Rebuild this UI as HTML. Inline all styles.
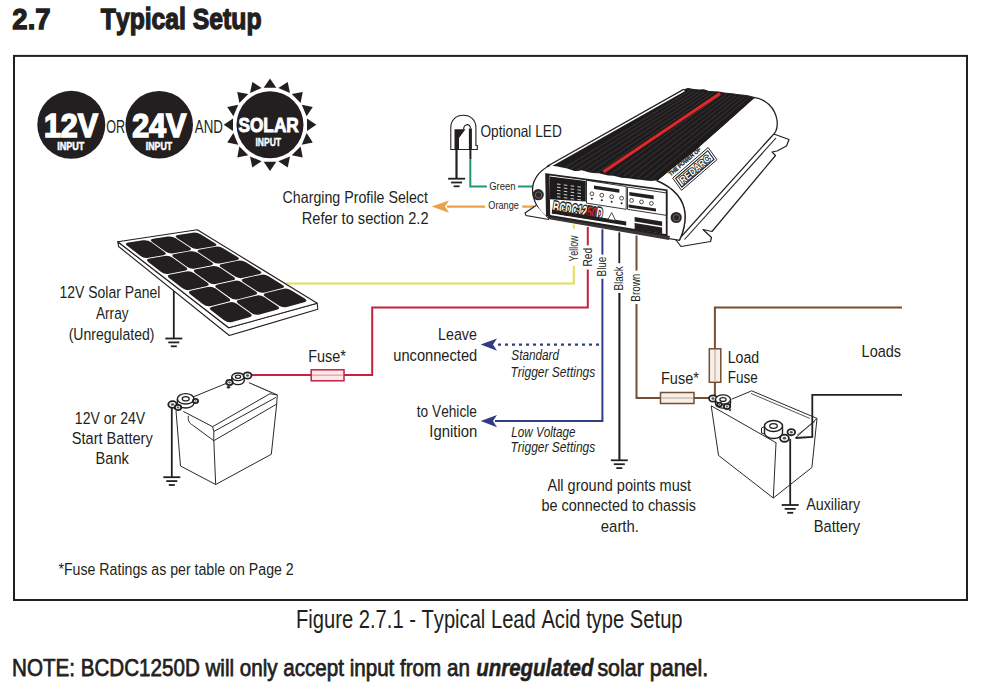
<!DOCTYPE html>
<html><head><meta charset="utf-8"><style>
html,body{margin:0;padding:0;background:#fff;}
svg{display:block;}
text{font-family:"Liberation Sans",sans-serif;font-kerning:none;}
</style></head><body>
<svg width="983" height="689" viewBox="0 0 983 689">
<rect width="983" height="689" fill="#fff"/>
<text x="12.35" y="29.20" font-size="30" textLength="38.26" lengthAdjust="spacingAndGlyphs" font-weight="bold" fill="#231f20" stroke="#231f20" stroke-width="1.3">2.7</text>
<text x="100.82" y="29.20" font-size="30" textLength="160.69" lengthAdjust="spacingAndGlyphs" font-weight="bold" fill="#231f20" stroke="#231f20" stroke-width="1.3">Typical Setup</text>
<rect x="14" y="55.9" width="953" height="544.1" fill="none" stroke="#231f20" stroke-width="2"/>
<circle cx="71.3" cy="124.8" r="34" fill="#231f20"/>
<text x="43.89" y="137.00" font-size="34" textLength="54.02" lengthAdjust="spacingAndGlyphs" font-weight="bold" fill="#fff" stroke="#fff" stroke-width="1.6">12V</text>
<text x="57.20" y="150.20" font-size="11.6" textLength="27.10" lengthAdjust="spacingAndGlyphs" font-weight="bold" fill="#fff" stroke="#fff" stroke-width="0.5">INPUT</text>
<text x="106.30" y="132.90" font-size="17.5" textLength="18.88" lengthAdjust="spacingAndGlyphs" fill="#231f20">OR</text>
<circle cx="159.2" cy="124.8" r="33.8" fill="#231f20"/>
<text x="132.14" y="137.00" font-size="34" textLength="54.27" lengthAdjust="spacingAndGlyphs" font-weight="bold" fill="#fff" stroke="#fff" stroke-width="1.6">24V</text>
<text x="145.71" y="150.20" font-size="11.6" textLength="26.49" lengthAdjust="spacingAndGlyphs" font-weight="bold" fill="#fff" stroke="#fff" stroke-width="0.5">INPUT</text>
<text x="194.77" y="132.90" font-size="17.5" textLength="28.16" lengthAdjust="spacingAndGlyphs" fill="#231f20">AND</text>
<polygon points="270.00,78.40 263.70,87.70 276.30,87.70" fill="#231f20" stroke="none" stroke-width="0"/>
<polygon points="287.72,81.92 278.34,88.11 289.98,92.93" fill="#231f20" stroke="none" stroke-width="0"/>
<polygon points="302.74,91.96 291.71,94.08 300.62,102.99" fill="#231f20" stroke="none" stroke-width="0"/>
<polygon points="312.78,106.98 301.77,104.72 306.59,116.36" fill="#231f20" stroke="none" stroke-width="0"/>
<polygon points="316.30,124.70 307.00,118.40 307.00,131.00" fill="#231f20" stroke="none" stroke-width="0"/>
<polygon points="312.78,142.42 306.59,133.04 301.77,144.68" fill="#231f20" stroke="none" stroke-width="0"/>
<polygon points="302.74,157.44 300.62,146.41 291.71,155.32" fill="#231f20" stroke="none" stroke-width="0"/>
<polygon points="287.72,167.48 289.98,156.47 278.34,161.29" fill="#231f20" stroke="none" stroke-width="0"/>
<polygon points="270.00,171.00 276.30,161.70 263.70,161.70" fill="#231f20" stroke="none" stroke-width="0"/>
<polygon points="252.28,167.48 261.66,161.29 250.02,156.47" fill="#231f20" stroke="none" stroke-width="0"/>
<polygon points="237.26,157.44 248.29,155.32 239.38,146.41" fill="#231f20" stroke="none" stroke-width="0"/>
<polygon points="227.22,142.42 238.23,144.68 233.41,133.04" fill="#231f20" stroke="none" stroke-width="0"/>
<polygon points="223.70,124.70 233.00,131.00 233.00,118.40" fill="#231f20" stroke="none" stroke-width="0"/>
<polygon points="227.22,106.98 233.41,116.36 238.23,104.72" fill="#231f20" stroke="none" stroke-width="0"/>
<polygon points="237.26,91.96 239.38,102.99 248.29,94.08" fill="#231f20" stroke="none" stroke-width="0"/>
<polygon points="252.28,81.92 250.02,92.93 261.66,88.11" fill="#231f20" stroke="none" stroke-width="0"/>
<circle cx="270.0" cy="124.7" r="33.5" fill="#231f20"/>
<text x="238.50" y="132.30" font-size="21" textLength="60.25" lengthAdjust="spacingAndGlyphs" font-weight="bold" fill="#fff" stroke="#fff" stroke-width="1">SOLAR</text>
<text x="255.43" y="145.80" font-size="11" textLength="25.66" lengthAdjust="spacingAndGlyphs" font-weight="bold" fill="#fff" stroke="#fff" stroke-width="0.4">INPUT</text>
<path d="M450.8,149.5 L450.8,127.5 C450.8,120 456,115.2 463.3,115.2 C470.6,115.2 475.9,120 475.9,127.5 L475.9,145.5 L477.3,145.5 L477.3,149.5 Z" fill="#fff" stroke="#231f20" stroke-width="1.1"/>
<path d="M454.5,149.5 L454.5,129.2 L465.5,129.2 L459,138 L459,149.5 Z" fill="#231f20"/>
<path d="M463.5,129.5 C463.8,123.5 470.2,123 470.6,128.5" fill="none" stroke="#231f20" stroke-width="1.1"/>
<rect x="468.9" y="128.5" width="3" height="21" fill="#231f20"/>
<line x1="456.5" y1="149.5" x2="456.5" y2="179" stroke="#231f20" stroke-width="2.2"/>
<line x1="448.10" y1="178.70" x2="465.10" y2="178.70" stroke="#231f20" stroke-width="1.8"/>
<line x1="451.10" y1="182.50" x2="462.10" y2="182.50" stroke="#231f20" stroke-width="1.8"/>
<line x1="453.60" y1="186.30" x2="459.60" y2="186.30" stroke="#231f20" stroke-width="1.8"/>
<line x1="470.4" y1="149.5" x2="470.4" y2="159.5" stroke="#231f20" stroke-width="2"/>
<polyline points="470.30,159.50 470.30,186.50 486.90,186.50" fill="none" stroke="#1f9a6e" stroke-width="2"/>
<line x1="518" y1="186.5" x2="533" y2="186.5" stroke="#1f9a6e" stroke-width="2"/>
<text x="480.45" y="136.60" font-size="16.5" textLength="81.40" lengthAdjust="spacingAndGlyphs" fill="#231f20">Optional LED</text>
<text x="489.22" y="189.70" font-size="10.6" textLength="26.29" lengthAdjust="spacingAndGlyphs" fill="#231f20">Green</text>
<text x="488.37" y="209.40" font-size="10.6" textLength="30.54" lengthAdjust="spacingAndGlyphs" fill="#231f20">Orange</text>
<line x1="447" y1="206.6" x2="485.1" y2="206.6" stroke="#eda04a" stroke-width="2.2"/>
<line x1="522.2" y1="206.6" x2="534.5" y2="206.6" stroke="#eda04a" stroke-width="2.2"/>
<polygon points="431.70,206.60 449.00,200.50 445.00,206.60 449.00,212.70" fill="#eda04a" stroke="none" stroke-width="0"/>
<text x="282.58" y="203.00" font-size="16.5" textLength="145.33" lengthAdjust="spacingAndGlyphs" fill="#231f20">Charging Profile Select</text>
<text x="301.80" y="223.70" font-size="16.5" textLength="126.73" lengthAdjust="spacingAndGlyphs" fill="#231f20">Refer to section 2.2</text>
<polyline points="270.00,283.40 573.80,283.40 573.80,265.70" fill="none" stroke="#e6dc55" stroke-width="2"/>
<line x1="573.8" y1="224.5" x2="573.8" y2="228.8" stroke="#e6dc55" stroke-width="2"/>
<line x1="173.8" y1="285" x2="173.8" y2="338.5" stroke="#231f20" stroke-width="1.8"/>
<line x1="165.30" y1="338.50" x2="182.30" y2="338.50" stroke="#231f20" stroke-width="1.8"/>
<line x1="168.30" y1="342.40" x2="179.30" y2="342.40" stroke="#231f20" stroke-width="1.8"/>
<line x1="170.80" y1="346.30" x2="176.80" y2="346.30" stroke="#231f20" stroke-width="1.8"/>
<polygon points="117.80,241.70 118.60,246.50 229.30,335.50 317.80,309.30 317.20,303.20 228.70,327.80" fill="#fff" stroke="#231f20" stroke-width="1.1" stroke-linejoin="round"/>
<polygon points="117.80,241.70 197.30,229.80 317.20,303.20 228.70,327.80" fill="#fff" stroke="#231f20" stroke-width="1.1" stroke-linejoin="round"/>
<path d="M127.55,246.09 Q123.91,243.29 128.45,242.59 L142.96,240.37 Q147.50,239.68 151.24,242.36 L164.21,251.67 Q167.94,254.35 163.42,255.16 L148.40,257.83 Q143.87,258.64 140.22,255.84 Z" fill="#231f20"/>
<path d="M148.52,262.21 Q144.87,259.41 149.40,258.60 L164.44,255.90 Q168.97,255.09 172.71,257.77 L185.68,267.08 Q189.41,269.76 184.90,270.68 L169.34,273.84 Q164.83,274.76 161.19,271.96 Z" fill="#231f20"/>
<path d="M169.48,278.33 Q165.84,275.53 170.34,274.61 L185.93,271.42 Q190.44,270.50 194.17,273.18 L207.14,282.49 Q210.88,285.17 206.39,286.19 L190.29,289.86 Q185.80,290.88 182.15,288.08 Z" fill="#231f20"/>
<path d="M190.45,294.45 Q186.80,291.65 191.29,290.62 L207.42,286.94 Q211.91,285.91 215.64,288.59 L228.61,297.90 Q232.35,300.59 227.89,301.70 L211.23,305.88 Q206.77,307.00 203.12,304.19 Z" fill="#231f20"/>
<path d="M211.41,310.57 Q207.77,307.77 212.23,306.65 L228.91,302.44 Q233.37,301.32 237.11,304.00 L250.08,313.31 Q253.81,316.00 249.38,317.21 L232.17,321.91 Q227.73,323.12 224.09,320.31 Z" fill="#231f20"/>
<path d="M152.44,242.17 Q148.70,239.49 153.25,238.80 L167.75,236.57 Q172.30,235.88 176.12,238.43 L189.41,247.29 Q193.24,249.84 188.71,250.65 L173.69,253.33 Q169.16,254.13 165.42,251.46 Z" fill="#231f20"/>
<path d="M173.93,257.54 Q170.19,254.87 174.72,254.06 L189.76,251.36 Q194.29,250.55 198.12,253.10 L211.41,261.96 Q215.23,264.51 210.73,265.43 L195.17,268.59 Q190.66,269.51 186.92,266.83 Z" fill="#231f20"/>
<path d="M195.43,272.92 Q191.68,270.24 196.19,269.32 L211.78,266.13 Q216.29,265.21 220.11,267.76 L233.40,276.63 Q237.23,279.18 232.74,280.20 L216.64,283.86 Q212.15,284.88 208.41,282.21 Z" fill="#231f20"/>
<path d="M216.92,288.30 Q213.18,285.62 217.66,284.59 L233.80,280.91 Q238.28,279.88 242.11,282.43 L255.40,291.29 Q259.22,293.85 254.76,294.97 L238.11,299.14 Q233.64,300.26 229.90,297.58 Z" fill="#231f20"/>
<path d="M238.41,303.67 Q234.67,300.99 239.13,299.87 L255.81,295.67 Q260.27,294.55 264.10,297.10 L277.39,305.96 Q281.22,308.51 276.78,309.73 L259.57,314.42 Q255.14,315.64 251.40,312.96 Z" fill="#231f20"/>
<path d="M177.32,238.24 Q173.49,235.70 178.04,235.00 L192.54,232.78 Q197.09,232.08 201.00,234.50 L214.62,242.92 Q218.53,245.34 214.01,246.15 L198.99,248.82 Q194.46,249.63 190.63,247.08 Z" fill="#231f20"/>
<path d="M199.34,252.87 Q195.51,250.33 200.04,249.51 L215.08,246.82 Q219.61,246.00 223.52,248.42 L237.14,256.84 Q241.06,259.26 236.55,260.18 L220.99,263.34 Q216.48,264.26 212.65,261.71 Z" fill="#231f20"/>
<path d="M221.36,267.50 Q217.53,264.96 222.04,264.04 L237.63,260.85 Q242.13,259.93 246.05,262.35 L259.67,270.77 Q263.58,273.18 259.09,274.21 L242.99,277.87 Q238.50,278.89 234.67,276.34 Z" fill="#231f20"/>
<path d="M243.38,282.13 Q239.55,279.59 244.04,278.56 L260.17,274.88 Q264.66,273.85 268.57,276.27 L282.19,284.69 Q286.10,287.11 281.64,288.23 L264.98,292.40 Q260.52,293.52 256.69,290.98 Z" fill="#231f20"/>
<path d="M265.40,296.77 Q261.57,294.22 266.03,293.10 L282.72,288.90 Q287.18,287.77 291.09,290.19 L304.71,298.61 Q308.62,301.03 304.19,302.24 L286.98,306.94 Q282.54,308.15 278.71,305.61 Z" fill="#231f20"/>
<polyline points="250.60,375.00 311.20,375.00" fill="none" stroke="#c4223e" stroke-width="2"/>
<polyline points="344.00,375.00 372.20,375.00 372.20,307.60 587.80,307.60 587.80,269.40" fill="none" stroke="#c4223e" stroke-width="2"/>
<line x1="587.8" y1="226.9" x2="587.8" y2="245.4" stroke="#c4223e" stroke-width="2"/>
<rect x="311.2" y="369.8" width="32.8" height="11" fill="#fde8ea" stroke="#c4223e" stroke-width="1.5"/>
<line x1="312" y1="375.2" x2="343" y2="375.2" stroke="#e9a3ad" stroke-width="1.4"/>
<polygon points="176.00,410.00 193.00,397.00 245.00,380.00 277.30,394.90 276.70,404.10 271.30,454.30 215.70,484.50 180.50,466.00" fill="#fff" stroke="none" stroke-width="0"/>
<polyline points="193.00,397.00 226.00,383.50" fill="none" stroke="#2c2829" stroke-width="1.0"/>
<polyline points="249.00,382.70 277.30,394.90 276.70,404.10 271.30,454.30 215.70,484.50 180.50,466.00 176.00,411.00" fill="none" stroke="#2c2829" stroke-width="1.0"/>
<polyline points="253.00,384.50 271.00,392.50" fill="none" stroke="#2c2829" stroke-width="0.7" stroke-dasharray="1.5,1"/>
<polyline points="183.30,411.40 212.60,426.70 270.00,393.70 277.30,394.90" fill="none" stroke="#2c2829" stroke-width="1.0"/>
<polyline points="212.60,426.70 213.80,431.50 276.00,397.40" fill="none" stroke="#2c2829" stroke-width="1.0"/>
<polyline points="213.80,431.50 213.80,440.70 276.70,404.10" fill="none" stroke="#2c2829" stroke-width="1.0"/>
<path d="M188.5,415.8 C187.5,419 189,423.5 192.5,425 L213.8,440.7" fill="none" stroke="#2c2829" stroke-width="1.0"/>
<polyline points="213.80,440.70 215.70,484.50" fill="none" stroke="#2c2829" stroke-width="1.0"/>
<ellipse cx="172.5" cy="404.5" rx="4.2" ry="3.36" fill="#fff" stroke="#231f20" stroke-width="1.82"/>
<ellipse cx="172.50" cy="404.50" rx="1.68" ry="1.34" fill="#555"/>
<path d="M177.40,398.80 L177.40,402.80 A8.3,5.2 0 0 0 194.00,402.80 L194.00,398.80" fill="#fff" stroke="#231f20" stroke-width="1.4"/>
<ellipse cx="185.7" cy="398.8" rx="8.3" ry="5.2" fill="#fff" stroke="#231f20" stroke-width="1.4"/>
<ellipse cx="185.7" cy="398.8" rx="3.49" ry="2.18" fill="#fff" stroke="#231f20" stroke-width="1.26"/>
<ellipse cx="178" cy="407.5" rx="3.2" ry="2.56" fill="#fff" stroke="#231f20" stroke-width="1.82"/>
<ellipse cx="178.00" cy="407.50" rx="1.28" ry="1.02" fill="#555"/>
<ellipse cx="195.5" cy="401" rx="2.6" ry="2.08" fill="#fff" stroke="#231f20" stroke-width="1.82"/>
<ellipse cx="195.50" cy="401.00" rx="1.04" ry="0.83" fill="#555"/>
<path d="M231.80,376.80 L231.80,380.80 A6.2,3.8 0 0 0 244.20,380.80 L244.20,376.80" fill="#fff" stroke="#231f20" stroke-width="1.4"/>
<ellipse cx="238" cy="376.8" rx="6.2" ry="3.8" fill="#fff" stroke="#231f20" stroke-width="1.4"/>
<ellipse cx="238" cy="376.8" rx="2.60" ry="1.60" fill="#fff" stroke="#231f20" stroke-width="1.26"/>
<ellipse cx="247.5" cy="375.5" rx="4" ry="3.20" fill="#fff" stroke="#231f20" stroke-width="1.82"/>
<ellipse cx="247.50" cy="375.50" rx="1.60" ry="1.28" fill="#555"/>
<ellipse cx="229.5" cy="382.5" rx="3.2" ry="2.56" fill="#fff" stroke="#231f20" stroke-width="1.82"/>
<ellipse cx="229.50" cy="382.50" rx="1.28" ry="1.02" fill="#555"/>
<ellipse cx="228.5" cy="387.3" rx="1.7" ry="1.3" fill="#231f20" />
<line x1="171.8" y1="407" x2="171.8" y2="477" stroke="#231f20" stroke-width="1.8"/>
<line x1="163.30" y1="477.20" x2="180.30" y2="477.20" stroke="#231f20" stroke-width="1.8"/>
<line x1="166.30" y1="481.10" x2="177.30" y2="481.10" stroke="#231f20" stroke-width="1.8"/>
<line x1="168.80" y1="485.00" x2="174.80" y2="485.00" stroke="#231f20" stroke-width="1.8"/>
<polyline points="602.40,278.70 602.40,421.10 495.00,421.10" fill="none" stroke="#2f3d85" stroke-width="2"/>
<line x1="602.4" y1="229.3" x2="602.4" y2="254.6" stroke="#2f3d85" stroke-width="2"/>
<polygon points="480.70,421.10 497.00,414.90 493.00,421.10 497.00,427.30" fill="#2f3d85" stroke="none" stroke-width="0"/>
<line x1="498" y1="344.7" x2="602.4" y2="344.7" stroke="#2f3d85" stroke-width="2.2" stroke-dasharray="3,4"/>
<polygon points="480.70,344.60 497.00,338.40 493.00,344.60 497.00,350.80" fill="#2f3d85" stroke="none" stroke-width="0"/>
<line x1="619.4" y1="292.9" x2="619.4" y2="460.3" stroke="#231f20" stroke-width="2.1"/>
<line x1="619.3" y1="232.4" x2="619.3" y2="263.2" stroke="#231f20" stroke-width="1.8"/>
<line x1="610.80" y1="460.30" x2="627.80" y2="460.30" stroke="#231f20" stroke-width="1.8"/>
<line x1="613.80" y1="464.20" x2="624.80" y2="464.20" stroke="#231f20" stroke-width="1.8"/>
<line x1="616.30" y1="468.10" x2="622.30" y2="468.10" stroke="#231f20" stroke-width="1.8"/>
<polyline points="636.50,304.00 636.50,398.00 660.50,398.00" fill="none" stroke="#734f35" stroke-width="2"/>
<line x1="636.5" y1="235.5" x2="636.5" y2="270.6" stroke="#734f35" stroke-width="2"/>
<polyline points="694.00,398.00 712.00,398.00" fill="none" stroke="#734f35" stroke-width="2"/>
<rect x="660.5" y="392.5" width="33.5" height="11" fill="#f8efe8" stroke="#734f35" stroke-width="1.5"/>
<line x1="661.5" y1="398" x2="693" y2="398" stroke="#c4bab4" stroke-width="1.4"/>
<polyline points="714.90,398.00 714.90,382.50" fill="none" stroke="#734f35" stroke-width="2"/>
<polyline points="714.90,348.50 714.90,307.50 902.00,307.50" fill="none" stroke="#734f35" stroke-width="2"/>
<rect x="709.3" y="348.8" width="11.5" height="33.5" fill="#f8efe8" stroke="#734f35" stroke-width="1.5"/>
<line x1="715" y1="350" x2="715" y2="381.3" stroke="#c4bab4" stroke-width="1.4"/>
<polygon points="711.20,405.80 731.70,399.20 751.60,390.80 817.00,418.40 811.90,467.50 773.30,498.00 718.50,455.40" fill="#fff" stroke="none" stroke-width="0"/>
<polyline points="731.70,399.20 750.90,391.20 751.60,390.80 817.00,418.40 811.90,467.50 773.30,498.00 718.50,455.40 711.20,405.80" fill="none" stroke="#2c2829" stroke-width="1.0"/>
<polyline points="751.00,393.50 809.80,418.40" fill="none" stroke="#2c2829" stroke-width="0.8"/>
<polyline points="711.20,405.80 776.50,443.00" fill="none" stroke="#2c2829" stroke-width="1.0"/>
<polyline points="776.00,443.00 773.30,498.00" fill="none" stroke="#2c2829" stroke-width="1.0"/>
<polyline points="795.20,438.20 817.00,418.40" fill="none" stroke="#2c2829" stroke-width="1.0"/>
<polyline points="797.00,435.00 815.00,421.50" fill="none" stroke="#2c2829" stroke-width="0.7"/>
<ellipse cx="713" cy="398.5" rx="4" ry="3.20" fill="#fff" stroke="#231f20" stroke-width="1.82"/>
<ellipse cx="713.00" cy="398.50" rx="1.60" ry="1.28" fill="#555"/>
<path d="M715.50,399.50 L715.50,403.50 A7.5,4.6 0 0 0 730.50,403.50 L730.50,399.50" fill="#fff" stroke="#231f20" stroke-width="1.4"/>
<ellipse cx="723" cy="399.5" rx="7.5" ry="4.6" fill="#fff" stroke="#231f20" stroke-width="1.4"/>
<ellipse cx="723" cy="399.5" rx="3.15" ry="1.93" fill="#fff" stroke="#231f20" stroke-width="1.26"/>
<ellipse cx="727" cy="406.5" rx="3.2" ry="2.56" fill="#fff" stroke="#231f20" stroke-width="1.82"/>
<ellipse cx="727.00" cy="406.50" rx="1.28" ry="1.02" fill="#555"/>
<ellipse cx="719.5" cy="404.5" rx="2.4" ry="1.92" fill="#fff" stroke="#231f20" stroke-width="1.82"/>
<ellipse cx="719.50" cy="404.50" rx="0.96" ry="0.77" fill="#555"/>
<path d="M728,409 l3,2 M729,411 l2,-2" stroke="#231f20" stroke-width="0.8"/>
<path d="M764.50,426.00 L764.50,433.00 A9,5.5 0 0 0 782.50,433.00 L782.50,426.00" fill="#fff" stroke="#231f20" stroke-width="1.4"/>
<ellipse cx="773.5" cy="426" rx="9" ry="5.5" fill="#fff" stroke="#231f20" stroke-width="1.4"/>
<ellipse cx="773.5" cy="426" rx="3.78" ry="2.31" fill="#fff" stroke="#231f20" stroke-width="1.26"/>
<path d="M764.5,426.5 L761.5,428 L761.5,433 L764.5,434" fill="none" stroke="#231f20" stroke-width="1"/>
<ellipse cx="784.5" cy="438.2" rx="4.4" ry="3.52" fill="#fff" stroke="#231f20" stroke-width="1.82"/>
<ellipse cx="784.50" cy="438.20" rx="1.76" ry="1.41" fill="#555"/>
<ellipse cx="791.3" cy="432.2" rx="3.8" ry="3.04" fill="#fff" stroke="#231f20" stroke-width="1.82"/>
<ellipse cx="791.30" cy="432.20" rx="1.52" ry="1.22" fill="#555"/>
<polyline points="902.00,394.90 812.30,394.90 812.30,437.00 795.70,438.00" fill="none" stroke="#231f20" stroke-width="1.8"/>
<line x1="790.2" y1="439" x2="790.2" y2="505" stroke="#231f20" stroke-width="1.8"/>
<line x1="781.70" y1="505.00" x2="798.70" y2="505.00" stroke="#231f20" stroke-width="1.8"/>
<line x1="784.70" y1="508.90" x2="795.70" y2="508.90" stroke="#231f20" stroke-width="1.8"/>
<line x1="787.20" y1="512.80" x2="793.20" y2="512.80" stroke="#231f20" stroke-width="1.8"/>
<path d="M771,133 L789,139.5 L786.5,146 L777,151 L772,152 L775.5,155.5 L712,231.5 L703,229.5 L711.5,237.5 L710.5,241.5 L681,246.5 L676,240 Z" fill="#fff" stroke="#231f20" stroke-width="1.2" stroke-linejoin="round"/>
<line x1="776" y1="138" x2="684.5" y2="239.5" stroke="#231f20" stroke-width="1.1"/>
<path d="M754,97.4 C766,99 775,108 777,120 C778,128 776,133 772,136 L680,238 L679.4,240.3 C683,233 685.5,224 685,214 C684,200 674,188 656.5,180.4 L672,168 L694.8,150 L723.5,124.8 Z" fill="#fff" stroke="#231f20" stroke-width="1.3"/>
<polygon points="548.00,167.00 683.00,90.00 688.00,88.50 694.00,89.50 699.00,90.00 704.00,89.80 709.00,91.50 714.00,91.80 719.00,92.00 724.00,93.00 729.00,93.50 734.00,94.00 739.00,94.80 744.00,95.20 749.00,96.00 754.00,97.40 723.50,124.80 694.80,150.00 672.00,168.00 657.00,180.50 651.00,180.90 640.00,179.80 630.00,178.40 618.40,177.00 608.00,175.40 598.80,173.30 586.00,171.50 574.40,170.90 562.00,167.60 552.00,165.80" fill="#1e1b1c" stroke="#231f20" stroke-width="1"/>
<line x1="563.7" y1="168.4" x2="690.5" y2="90.5" stroke="#5a5657" stroke-width="0.45"/>
<line x1="570.3" y1="169.2" x2="695.1" y2="91.0" stroke="#5a5657" stroke-width="0.45"/>
<line x1="577.0" y1="170.1" x2="699.6" y2="91.5" stroke="#5a5657" stroke-width="0.45"/>
<line x1="583.7" y1="171.0" x2="704.1" y2="92.0" stroke="#5a5657" stroke-width="0.45"/>
<line x1="590.3" y1="171.8" x2="708.7" y2="92.5" stroke="#5a5657" stroke-width="0.45"/>
<line x1="597.0" y1="172.7" x2="713.2" y2="93.0" stroke="#5a5657" stroke-width="0.45"/>
<line x1="603.7" y1="173.6" x2="717.7" y2="93.5" stroke="#5a5657" stroke-width="0.45"/>
<line x1="610.3" y1="174.4" x2="722.3" y2="93.9" stroke="#5a5657" stroke-width="0.45"/>
<line x1="617.0" y1="175.3" x2="726.8" y2="94.4" stroke="#5a5657" stroke-width="0.45"/>
<line x1="623.7" y1="176.2" x2="731.3" y2="94.9" stroke="#5a5657" stroke-width="0.45"/>
<line x1="630.3" y1="177.0" x2="735.9" y2="95.4" stroke="#5a5657" stroke-width="0.45"/>
<line x1="637.0" y1="177.9" x2="740.4" y2="95.9" stroke="#5a5657" stroke-width="0.45"/>
<line x1="643.7" y1="178.8" x2="744.9" y2="96.4" stroke="#5a5657" stroke-width="0.45"/>
<line x1="650.3" y1="179.6" x2="749.5" y2="96.9" stroke="#5a5657" stroke-width="0.45"/>
<line x1="603.5" y1="171.8" x2="720" y2="93.5" stroke="#e3262c" stroke-width="3"/>
<polygon points="546.99,167.07 683.99,89.87 684.73,91.18 547.73,168.38" fill="#fff" stroke="none" stroke-width="0"/>
<polygon points="546.40,166.03 683.40,88.83 683.99,89.87 546.99,167.07" fill="#231f20" stroke="none" stroke-width="0"/>
<path d="M548,167 C540,170 533,179 532.5,189 C532.5,200 538,211 548,218 L679.4,240.3 C683,233 685.5,224 685,214 C684,200 674,188 656.5,180.6 L656.5,180.6 L651,180.9 L645.2,180.6 L640,179.8 L635.5,179.4 L630,178.4 L625.7,178.2 L621,177.8 L618.4,177 L613.5,175.8 L608,175.4 L603.7,174.5 L598.8,173.3 L594,173.8 L590.3,173.3 L586,171.5 L581.7,170.3 L578,171 L574.4,170.9 L570,169.5 L567.1,168.4 L562,167.6 L557.3,166.4 L552,165.8 Z" fill="#fff" stroke="none"/>
<path d="M550,165.5 C540,170 533,179 532.5,189 C532.5,200 538,211 548,218 L679.4,240.3 C683,233 685.5,224 685,214 C684,200 674,188 656.5,180.6" fill="none" stroke="#231f20" stroke-width="1.3"/>
<path d="M536,205.5 L525,213 L526,215.5 L549,219.5" fill="#fff" stroke="#231f20" stroke-width="1.1"/>
<path d="M548,215 L670,236 L669,240 L548,219 Z" fill="#3a3637"/>
<polygon points="546.10,174.20 666.70,190.20 666.70,235.20 546.90,215.40" fill="#fff" stroke="#231f20" stroke-width="1.8"/>
<polygon points="546.10,174.20 549.60,174.70 550.20,215.90 546.90,215.40" fill="#231f20" stroke="none" stroke-width="0"/>
<polygon points="549.90,176.60 585.80,181.00 585.80,201.60 549.90,199.30" fill="#1e1b1c" stroke="none" stroke-width="0"/>
<line x1="557.0" y1="184.0" x2="560.5" y2="184.4" stroke="#cfcfcf" stroke-width="1"/>
<line x1="563.8" y1="184.9" x2="567.3" y2="185.3" stroke="#cfcfcf" stroke-width="1"/>
<line x1="570.6" y1="185.8" x2="574.1" y2="186.2" stroke="#cfcfcf" stroke-width="1"/>
<line x1="577.4" y1="186.7" x2="580.9" y2="187.1" stroke="#cfcfcf" stroke-width="1"/>
<line x1="557.0" y1="187.2" x2="560.5" y2="187.6" stroke="#cfcfcf" stroke-width="1"/>
<line x1="563.8" y1="188.1" x2="567.3" y2="188.5" stroke="#cfcfcf" stroke-width="1"/>
<line x1="570.6" y1="189.0" x2="574.1" y2="189.4" stroke="#cfcfcf" stroke-width="1"/>
<line x1="577.4" y1="189.9" x2="580.9" y2="190.3" stroke="#cfcfcf" stroke-width="1"/>
<line x1="557.0" y1="190.4" x2="560.5" y2="190.8" stroke="#cfcfcf" stroke-width="1"/>
<line x1="563.8" y1="191.3" x2="567.3" y2="191.7" stroke="#cfcfcf" stroke-width="1"/>
<line x1="570.6" y1="192.2" x2="574.1" y2="192.6" stroke="#cfcfcf" stroke-width="1"/>
<line x1="577.4" y1="193.1" x2="580.9" y2="193.5" stroke="#cfcfcf" stroke-width="1"/>
<line x1="557.0" y1="193.6" x2="560.5" y2="194.0" stroke="#cfcfcf" stroke-width="1"/>
<line x1="563.8" y1="194.5" x2="567.3" y2="194.9" stroke="#cfcfcf" stroke-width="1"/>
<line x1="570.6" y1="195.4" x2="574.1" y2="195.8" stroke="#cfcfcf" stroke-width="1"/>
<line x1="577.4" y1="196.3" x2="580.9" y2="196.7" stroke="#cfcfcf" stroke-width="1"/>
<line x1="557.0" y1="196.8" x2="560.5" y2="197.2" stroke="#cfcfcf" stroke-width="1"/>
<line x1="563.8" y1="197.7" x2="567.3" y2="198.1" stroke="#cfcfcf" stroke-width="1"/>
<line x1="570.6" y1="198.6" x2="574.1" y2="199.0" stroke="#cfcfcf" stroke-width="1"/>
<line x1="577.4" y1="199.5" x2="580.9" y2="199.9" stroke="#cfcfcf" stroke-width="1"/>
<polygon points="586.50,180.30 626.20,186.50 626.20,209.30 586.50,203.10" fill="none" stroke="#231f20" stroke-width="0.9"/>
<polygon points="627.50,187.00 666.70,193.00 666.70,215.40 627.50,209.30" fill="none" stroke="#231f20" stroke-width="0.9"/>
<polygon points="594.00,185.50 619.40,189.20 619.40,192.80 594.00,189.10" fill="#231f20" stroke="none" stroke-width="0"/>
<polygon points="629.30,192.00 653.70,195.60 653.70,199.20 629.30,195.60" fill="#231f20" stroke="none" stroke-width="0"/>
<circle cx="591.9" cy="193.8" r="1.9" fill="#fff" stroke="#231f20" stroke-width="0.8"/>
<circle cx="591.9" cy="198.8" r="1" fill="#231f20"/>
<circle cx="601.8" cy="195.2" r="1.9" fill="#fff" stroke="#231f20" stroke-width="0.8"/>
<circle cx="601.8" cy="200.2" r="1" fill="#231f20"/>
<circle cx="611.7" cy="196.7" r="1.9" fill="#fff" stroke="#231f20" stroke-width="0.8"/>
<circle cx="611.7" cy="201.7" r="1" fill="#231f20"/>
<circle cx="621.6" cy="198.2" r="1.9" fill="#fff" stroke="#231f20" stroke-width="0.8"/>
<circle cx="621.6" cy="203.2" r="1" fill="#231f20"/>
<circle cx="631.6" cy="200.4" r="1.9" fill="#fff" stroke="#231f20" stroke-width="0.8"/>
<circle cx="641.5" cy="201.9" r="1.9" fill="#fff" stroke="#231f20" stroke-width="0.8"/>
<circle cx="651.4" cy="203.4" r="1.9" fill="#fff" stroke="#231f20" stroke-width="0.8"/>
<polygon points="628.50,204.50 656.00,208.50 656.00,211.50 628.50,207.50" fill="#231f20" stroke="none" stroke-width="0"/>
<text transform="translate(552.3,212) rotate(8.3)" font-size="15.5" font-weight="bold" textLength="50" lengthAdjust="spacingAndGlyphs" fill="#fff" stroke="#231f20" stroke-width="3" paint-order="stroke" font-family="Liberation Sans">BCDC12<tspan fill="#e3262c">50</tspan>D</text>
<polygon points="552.00,209.50 626.20,221.50 626.20,225.50 552.00,213.50" fill="#231f20" stroke="none" stroke-width="0"/>
<polygon points="611.70,212.50 608.00,219.50 615.50,220.50" fill="#fff" stroke="#231f20" stroke-width="0.8"/>
<polygon points="634.60,217.00 662.10,221.50 662.10,226.00 634.60,221.50" fill="#231f20" stroke="none" stroke-width="0"/>
<polygon points="634.60,223.00 662.10,227.50 662.10,233.70 634.60,229.50" fill="#231f20" stroke="none" stroke-width="0"/>
<circle cx="538.2" cy="194.7" r="5.6" fill="#2a2627"/>
<circle cx="538.5" cy="195.0" r="3.2" fill="none" stroke="#777" stroke-width="0.8"/>
<circle cx="676.2" cy="217.5" r="5.6" fill="#2a2627"/>
<circle cx="676.5" cy="217.8" r="3.2" fill="none" stroke="#777" stroke-width="0.8"/>
<g transform="translate(672.7,178.1) rotate(-40.8) skewX(-5)"><rect x="0" y="0" width="46.8" height="15" fill="#fff" stroke="#231f20" stroke-width="0.9"/><rect x="2.2" y="2.2" width="42.4" height="10.6" fill="none" stroke="#231f20" stroke-width="1.1"/><text x="4.5" y="11.3" font-size="10" font-weight="bold" textLength="37.5" lengthAdjust="spacingAndGlyphs" fill="#fff" stroke="#231f20" stroke-width="1.8" paint-order="stroke" font-family="Liberation Sans">REDARC</text><text x="-0.5" y="-2.6" font-size="6" font-weight="bold" textLength="40" lengthAdjust="spacingAndGlyphs" fill="#231f20" stroke="#231f20" stroke-width="0.3" font-family="Liberation Sans">THE POWER OF</text></g>
<text x="59.54" y="298.20" font-size="16.3" textLength="100.90" lengthAdjust="spacingAndGlyphs" fill="#231f20">12V Solar Panel</text>
<text x="95.97" y="318.80" font-size="16.3" textLength="32.55" lengthAdjust="spacingAndGlyphs" fill="#231f20">Array</text>
<text x="68.63" y="339.50" font-size="16.3" textLength="85.84" lengthAdjust="spacingAndGlyphs" fill="#231f20">(Unregulated)</text>
<text x="308.22" y="362.30" font-size="16.3" textLength="37.71" lengthAdjust="spacingAndGlyphs" fill="#231f20">Fuse*</text>
<text x="74.83" y="423.50" font-size="16.3" textLength="70.33" lengthAdjust="spacingAndGlyphs" fill="#231f20">12V or 24V</text>
<text x="71.84" y="444.20" font-size="16.3" textLength="80.89" lengthAdjust="spacingAndGlyphs" fill="#231f20">Start Battery</text>
<text x="95.50" y="464.30" font-size="16.3" textLength="33.38" lengthAdjust="spacingAndGlyphs" fill="#231f20">Bank</text>
<text x="438.03" y="339.90" font-size="16.3" textLength="38.91" lengthAdjust="spacingAndGlyphs" fill="#231f20">Leave</text>
<text x="393.25" y="360.70" font-size="16.3" textLength="84.00" lengthAdjust="spacingAndGlyphs" fill="#231f20">unconnected</text>
<text x="416.79" y="416.80" font-size="16.3" textLength="60.12" lengthAdjust="spacingAndGlyphs" fill="#231f20">to Vehicle</text>
<text x="429.33" y="436.70" font-size="16.3" textLength="47.94" lengthAdjust="spacingAndGlyphs" fill="#231f20">Ignition</text>
<text x="511.27" y="359.80" font-size="14.4" textLength="47.82" lengthAdjust="spacingAndGlyphs" font-style="italic" fill="#231f20">Standard</text>
<text x="510.52" y="376.90" font-size="14.4" textLength="84.72" lengthAdjust="spacingAndGlyphs" font-style="italic" fill="#231f20">Trigger Settings</text>
<text x="511.24" y="436.70" font-size="14.4" textLength="64.29" lengthAdjust="spacingAndGlyphs" font-style="italic" fill="#231f20">Low Voltage</text>
<text x="510.52" y="452.40" font-size="14.4" textLength="84.72" lengthAdjust="spacingAndGlyphs" font-style="italic" fill="#231f20">Trigger Settings</text>
<text x="547.47" y="490.90" font-size="16.3" textLength="143.53" lengthAdjust="spacingAndGlyphs" fill="#231f20">All ground points must</text>
<text x="541.47" y="511.20" font-size="16.3" textLength="154.45" lengthAdjust="spacingAndGlyphs" fill="#231f20">be connected to chassis</text>
<text x="600.77" y="531.60" font-size="16.3" textLength="38.20" lengthAdjust="spacingAndGlyphs" fill="#231f20">earth.</text>
<text x="727.74" y="362.50" font-size="16.3" textLength="31.47" lengthAdjust="spacingAndGlyphs" fill="#231f20">Load</text>
<text x="727.79" y="383.20" font-size="16.3" textLength="30.01" lengthAdjust="spacingAndGlyphs" fill="#231f20">Fuse</text>
<text x="660.91" y="384.30" font-size="16.3" textLength="38.02" lengthAdjust="spacingAndGlyphs" fill="#231f20">Fuse*</text>
<text x="861.61" y="357.20" font-size="16.3" textLength="39.51" lengthAdjust="spacingAndGlyphs" fill="#231f20">Loads</text>
<text x="806.17" y="510.00" font-size="16.3" textLength="54.06" lengthAdjust="spacingAndGlyphs" fill="#231f20">Auxiliary</text>
<text x="813.70" y="531.50" font-size="16.3" textLength="46.53" lengthAdjust="spacingAndGlyphs" fill="#231f20">Battery</text>
<text x="58.47" y="575.20" font-size="16" textLength="235.24" lengthAdjust="spacingAndGlyphs" fill="#231f20">*Fuse Ratings as per table on Page 2</text>
<text x="296.05" y="628.00" font-size="25" textLength="386.50" lengthAdjust="spacingAndGlyphs" fill="#231f20">Figure 2.7.1 - Typical Lead Acid type Setup</text>
<text x="12.11" y="675.50" font-size="24.3" textLength="457.73" lengthAdjust="spacingAndGlyphs" fill="#231f20" stroke="#231f20" stroke-width="0.75">NOTE: BCDC1250D will only accept input from an</text>
<text x="476.15" y="675.50" font-size="24.3" textLength="117.30" lengthAdjust="spacingAndGlyphs" font-weight="bold" font-style="italic" fill="#231f20" stroke="#231f20" stroke-width="0.5">unregulated</text>
<text x="597.40" y="675.50" font-size="24.3" textLength="110.85" lengthAdjust="spacingAndGlyphs" fill="#231f20" stroke="#231f20" stroke-width="0.75">solar panel.</text>
<text transform="translate(577.80,261.40) rotate(-90)" x="-0.19" y="0" font-size="12.5" textLength="26.07" lengthAdjust="spacingAndGlyphs" fill="#231f20">Yellow</text>
<text transform="translate(591.70,265.70) rotate(-90)" x="-0.84" y="0" font-size="12.5" textLength="18.80" lengthAdjust="spacingAndGlyphs" fill="#231f20">Red</text>
<text transform="translate(606.40,275.60) rotate(-90)" x="-0.81" y="0" font-size="12.5" textLength="19.75" lengthAdjust="spacingAndGlyphs" fill="#231f20">Blue</text>
<text transform="translate(623.10,289.80) rotate(-90)" x="-0.82" y="0" font-size="12.5" textLength="24.30" lengthAdjust="spacingAndGlyphs" fill="#231f20">Black</text>
<text transform="translate(640.30,300.90) rotate(-90)" x="-0.81" y="0" font-size="12.5" textLength="28.05" lengthAdjust="spacingAndGlyphs" fill="#231f20">Brown</text>
</svg>
</body></html>
